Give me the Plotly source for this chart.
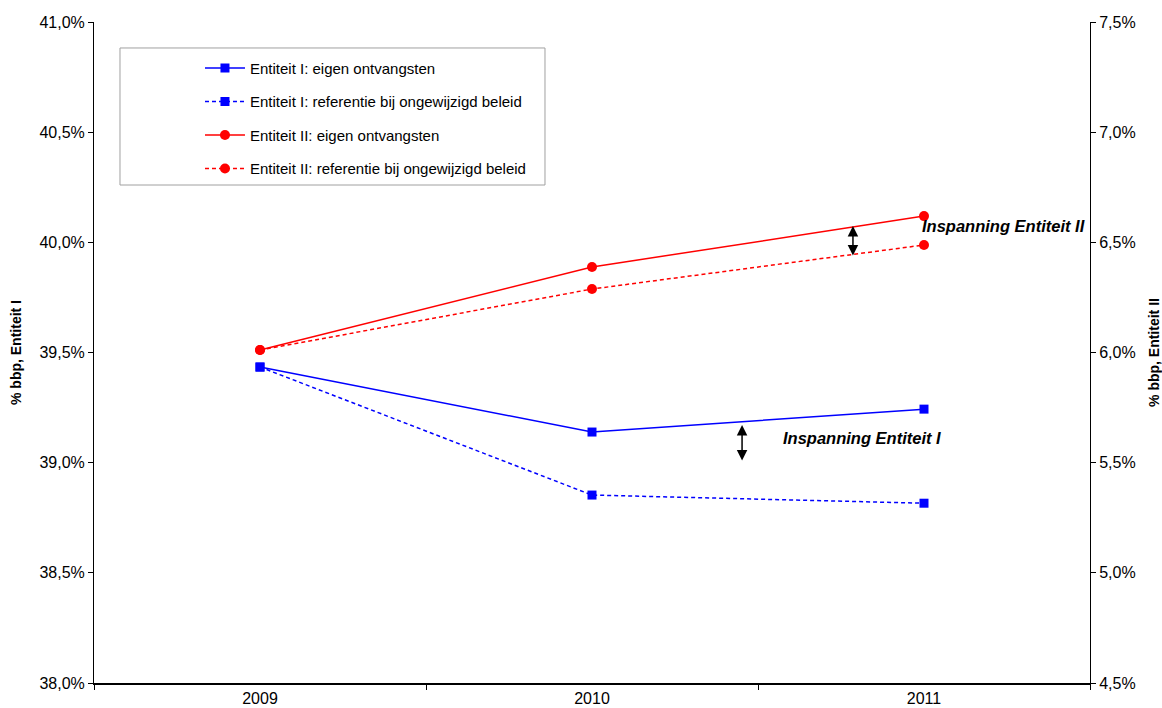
import plotly.graph_objects as go

years = ["2009", "2010", "2011"]
ent1_eigen = [39.434, 39.139, 39.243]
ent1_ref = [39.434, 38.853, 38.816]
ent2_eigen = [6.011, 6.388, 6.619]
ent2_ref = [6.011, 6.288, 6.488]

names = [
    "Entiteit I: eigen ontvangsten",
    "Entiteit I: referentie bij ongewijzigd beleid",
    "Entiteit II: eigen ontvangsten",
    "Entiteit II: referentie bij ongewijzigd beleid",
]

FONT = "Liberation Sans, Arial, sans-serif"
BLUE = "#0000ff"
RED = "#ff0000"
DASH = "4px,3px"

fig = go.Figure()
fig.add_trace(go.Scatter(x=years, y=ent1_eigen, name=names[0], legendgroup="a",
                         mode="lines+markers", line=dict(color=BLUE, width=1.5),
                         marker=dict(symbol="square", size=9, color=BLUE)))
fig.add_trace(go.Scatter(x=years, y=ent1_ref, name=names[1], legendgroup="b",
                         mode="lines+markers", line=dict(color=BLUE, width=1.5, dash=DASH),
                         marker=dict(symbol="square", size=9, color=BLUE)))
fig.add_trace(go.Scatter(x=years, y=ent2_eigen, name=names[2], legendgroup="c", yaxis="y2",
                         mode="lines+markers", line=dict(color=RED, width=1.5),
                         marker=dict(symbol="circle", size=10, color=RED)))
fig.add_trace(go.Scatter(x=years, y=ent2_ref, name=names[3], legendgroup="d", yaxis="y2",
                         mode="lines+markers", line=dict(color=RED, width=1.5, dash=DASH),
                         marker=dict(symbol="circle", size=10, color=RED)))

annotations = [
    dict(x=1.452, y=39.171, ax=1.452, ay=39.003, xref="x", yref="y", axref="x", ayref="y",
         text="", showarrow=True, arrowhead=2, arrowside="end+start", arrowsize=1.4,
         arrowwidth=1.5, arrowcolor="black", standoff=0, startstandoff=0),
    dict(x=1.786, y=6.574, ax=1.786, ay=6.433, xref="x", yref="y2", axref="x", ayref="y2",
         text="", showarrow=True, arrowhead=2, arrowside="end+start", arrowsize=1.4,
         arrowwidth=1.5, arrowcolor="black", standoff=0, startstandoff=0),
    dict(x=0.6898, y=0.3707, xref="paper", yref="paper", xanchor="left", yanchor="middle",
         text="<b><i>Inspanning Entiteit I</i></b>", showarrow=False,
         font=dict(family=FONT, size=16.5, color="black")),
    dict(x=0.8293, y=0.6914, xref="paper", yref="paper", xanchor="left", yanchor="middle",
         text="<b><i>Inspanning Entiteit II</i></b>", showarrow=False,
         font=dict(family=FONT, size=16.5, color="black")),
]

tick_common = dict(showgrid=False, zeroline=False, automargin=False)

fig.update_layout(
    width=1162, height=708,
    margin=dict(l=94, r=72, t=22, b=25, autoexpand=False),
    paper_bgcolor="white", plot_bgcolor="white",
    separators=",.",
    font=dict(family=FONT, size=15, color="black"),
    showlegend=True,
    legend=dict(x=0.1064, y=0.955, xanchor="left", yanchor="top",
                bgcolor="rgba(0,0,0,0)", borderwidth=0,
                font=dict(family=FONT, size=15, color="black"),
                tracegroupgap=11, itemwidth=40),
    xaxis=dict(type="category", range=[-0.5, 2.5], showline=True, linecolor="black",
               linewidth=1.5, ticks="outside", tickson="boundaries", ticklen=5,
               tickcolor="black", tickfont=dict(family=FONT, size=16), **tick_common),
    yaxis=dict(range=[38.0, 41.0], dtick=0.5, tickformat=".1f", ticksuffix="%",
               showline=True, linecolor="black", linewidth=1, ticks="outside",
               ticklen=5, tickcolor="black",
               title=dict(text="<b>% bbp, Entiteit I</b>", font=dict(family=FONT, size=14), standoff=14),
               tickfont=dict(family=FONT, size=16), **tick_common),
    yaxis2=dict(range=[4.5, 7.5], dtick=0.5, tickformat=".1f", ticksuffix="%",
                overlaying="y", side="right", showline=True, linecolor="black",
                linewidth=1, ticks="outside", ticklen=5, tickcolor="black",
                title=dict(text="<b>% bbp, Entiteit II</b>", font=dict(family=FONT, size=14), standoff=14),
                tickfont=dict(family=FONT, size=16), **tick_common),
    yaxis3=dict(range=[38.0, 41.0], dtick=0.5, overlaying="y", side="left", anchor="x",
                showline=False, ticks="inside", ticklen=5, tickcolor="black",
                showticklabels=False, **tick_common),
    yaxis4=dict(range=[4.5, 7.5], dtick=0.5, overlaying="y", side="right", anchor="x",
                showline=False, ticks="inside", ticklen=5, tickcolor="black",
                showticklabels=False, **tick_common),
    annotations=annotations,
    shapes=[dict(type="rect", xref="paper", yref="paper", x0=0.0261, x1=0.4528,
                 y0=0.7534, y1=0.9607, line=dict(color="#a0a0a0", width=1),
                 fillcolor="rgba(0,0,0,0)")],
)

fig.write_html("out.html")
